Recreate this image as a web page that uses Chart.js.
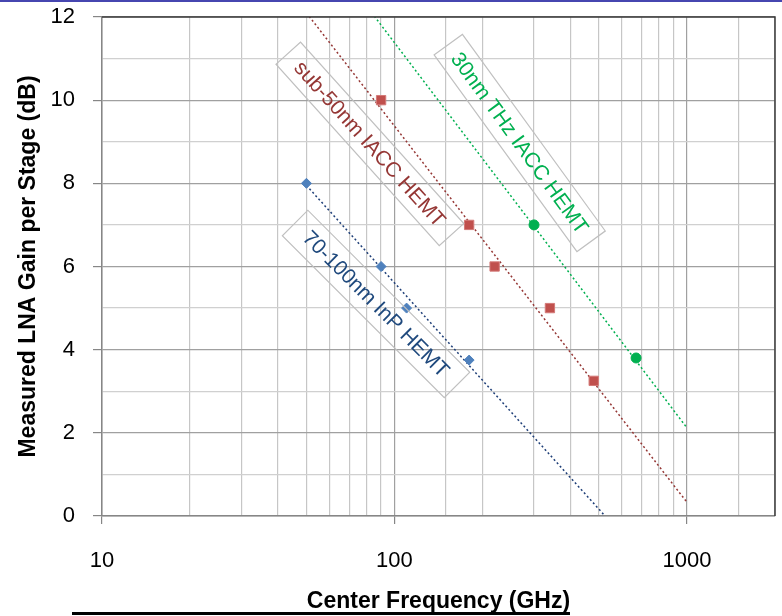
<!DOCTYPE html>
<html>
<head>
<meta charset="utf-8">
<script src="https://cdn.jsdelivr.net/npm/chart.js@4.4.0/dist/chart.umd.min.js"></script>
<style>
    html, body { margin: 0; padding: 0; background: #fff; }
    #wrap { position: relative; width: 782px; height: 616px; }
    #topbar { position: absolute; left: 0; top: 0; width: 782px; height: 2px; background: #4646b0; }
    #rule { position: absolute; left: 72px; top: 612px; width: 498px; height: 3px; background: #000; }
</style>
</head>
<body>
<div id="wrap">
    <canvas id="Chart" width="782" height="616"></canvas>
    <div id="topbar"></div>
    <div id="rule"></div>
</div>
<script>
/** LNA gain per stage vs. center frequency */

// measured points
const inpFreq = [50, 90, 110, 180];
const inpGain = [8, 6, 5, 3.75];
const sub50Freq = [90, 180, 220, 340, 480];
const sub50Gain = [10, 7, 6, 5, 3.25];
const thzFreq = [300, 670];
const thzGain = [7, 3.8];

// trend line ends
const inpTrendFreq = [50, 525];
const inpTrendGain = [7.95, 0];
const sub50TrendFreq = [50, 1000];
const sub50TrendGain = [12.1, 0.33];
const thzTrendFreq = [80, 1000];
const thzTrendGain = [12.28, 2.12];

const xTickLabels = [10, 100, 1000];
const yTickLabels = [0, 2, 4, 6, 8, 10, 12];

// label boxes: centre in data units
const notes = [
    { text: '70-100nm InP HEMT', freq: 86.5, gain: 5.1, angle: 45, len: 229, wid: 36, color: '#1f497d' },
    { text: 'sub-50nm IACC HEMT', freq: 82.4, gain: 8.95, angle: 48, len: 244, wid: 33, color: '#953735' },
    { text: '30nm THz IACC HEMT', freq: 268, gain: 8.97, angle: 54, len: 243, wid: 35, color: '#00b050' }
];

const FONT = "'Liberation Sans', Arial, sans-serif";

function pts(xs, ys) {
    return xs.map((x, i) => ({ x: x, y: ys[i] }));
}

function isDecade(v) {
    const l = Math.log10(v);
    return Math.abs(l - Math.round(l)) < 1e-6;
}

const notesPlugin = {
    id: 'notes',
    afterDatasetsDraw(chart) {
        const ctx = chart.ctx;
        const xs = chart.scales.x, ys = chart.scales.y;
        notes.forEach(n => {
            const px = xs.getPixelForValue(n.freq);
            const py = ys.getPixelForValue(n.gain);
            ctx.save();
            ctx.translate(px, py);
            ctx.rotate(n.angle * Math.PI / 180);
            ctx.strokeStyle = '#c0c0c0';
            ctx.lineWidth = 1.2;
            ctx.strokeRect(-n.len / 2, -n.wid / 2, n.len, n.wid);
            ctx.fillStyle = n.color;
            ctx.font = '21px ' + FONT;
            ctx.textAlign = 'center';
            ctx.textBaseline = 'middle';
            ctx.fillText(n.text, 0, 1);
            ctx.restore();
        });
    }
};

const framePlugin = {
    id: 'frame',
    afterDraw(chart) {
        const a = chart.chartArea;
        const ctx = chart.ctx;
        ctx.save();
        ctx.strokeStyle = '#3a3a3a';
        ctx.lineWidth = 1.5;
        ctx.beginPath();
        ctx.moveTo(a.left, a.top);
        ctx.lineTo(a.right, a.top);
        ctx.lineTo(a.right, a.bottom);
        ctx.stroke();
        ctx.restore();
    }
};

const ctx = document.getElementById('Chart').getContext('2d');
const myChart = new Chart(ctx, {
    type: 'scatter',
    data: {
        datasets: [
            { data: pts(inpFreq, inpGain), pointStyle: 'rectRot', pointRadius: 5, backgroundColor: '#4f81bd', borderColor: '#4f81bd', borderWidth: 1, order: 0 },
            { data: pts(sub50Freq, sub50Gain), pointStyle: 'rect', pointRadius: 6.6, backgroundColor: '#c0504d', borderColor: '#d47a78', borderWidth: 1, order: 0 },
            { data: pts(thzFreq, thzGain), pointStyle: 'circle', pointRadius: 5, backgroundColor: '#00b050', borderColor: '#00b050', borderWidth: 1, order: 0 },
            { data: pts(inpTrendFreq, inpTrendGain), showLine: true, pointRadius: 0, borderColor: '#1f3f78', borderWidth: 1.5, borderDash: [2, 2.5], order: 1 },
            { data: pts(sub50TrendFreq, sub50TrendGain), showLine: true, pointRadius: 0, borderColor: '#953735', borderWidth: 1.5, borderDash: [2, 2.5], order: 1 },
            { data: pts(thzTrendFreq, thzTrendGain), showLine: true, pointRadius: 0, borderColor: '#00b050', borderWidth: 1.5, borderDash: [2, 2.5], order: 1 }
        ]
    },
    options: {
        responsive: false,
        animation: false,
        devicePixelRatio: 1,
        layout: { autoPadding: false, padding: { top: 17, right: 7, left: 0, bottom: 0 } },
        plugins: { legend: { display: false }, tooltip: { enabled: false } },
        scales: {
            x: {
                type: 'logarithmic',
                min: 10,
                max: 2000,
                afterFit: s => { s.height = 100; s.paddingLeft = 0; s.paddingRight = 0; },
                border: { color: '#868686', width: 1.5 },
                grid: {
                    color: c => (c.tick && isDecade(c.tick.value)) ? '#a0a0a0' : '#c6c6c6',
                    lineWidth: 1.2,
                    tickLength: 8,
                    tickColor: c => (c.tick && isDecade(c.tick.value)) ? '#868686' : 'rgba(0,0,0,0)'
                },
                ticks: {
                    autoSkip: false,
                    maxRotation: 0,
                    padding: 24,
                    color: '#000',
                    font: { family: FONT, size: 22 },
                    callback: v => xTickLabels.includes(v) ? String(v) : ''
                },
                title: {
                    display: true,
                    text: 'Center Frequency (GHz)',
                    color: '#000',
                    font: { family: FONT, size: 23, weight: 'bold' },
                    padding: { top: 0, bottom: 1 }
                }
            },
            y: {
                min: 0,
                max: 12,
                afterFit: s => { s.width = 102; s.paddingTop = 0; s.paddingBottom = 0; },
                border: { color: '#868686', width: 1.5 },
                grid: {
                    color: c => (c.tick && c.tick.value % 2 === 0) ? '#a0a0a0' : '#d0d0d0',
                    lineWidth: 1.2,
                    tickLength: 9,
                    tickColor: c => (c.tick && c.tick.value % 2 === 0) ? '#868686' : 'rgba(0,0,0,0)'
                },
                ticks: {
                    stepSize: 1,
                    padding: 18,
                    color: '#000',
                    font: { family: FONT, size: 22 },
                    callback: v => yTickLabels.includes(v) ? String(v) : ''
                },
                title: {
                    display: true,
                    text: 'Measured LNA Gain per Stage (dB)',
                    color: '#000',
                    font: { family: FONT, size: 23, weight: 'bold' },
                    padding: { top: 15, bottom: 0 }
                }
            }
        }
    },
    plugins: [notesPlugin, framePlugin]
});
</script>
</body>
</html>
